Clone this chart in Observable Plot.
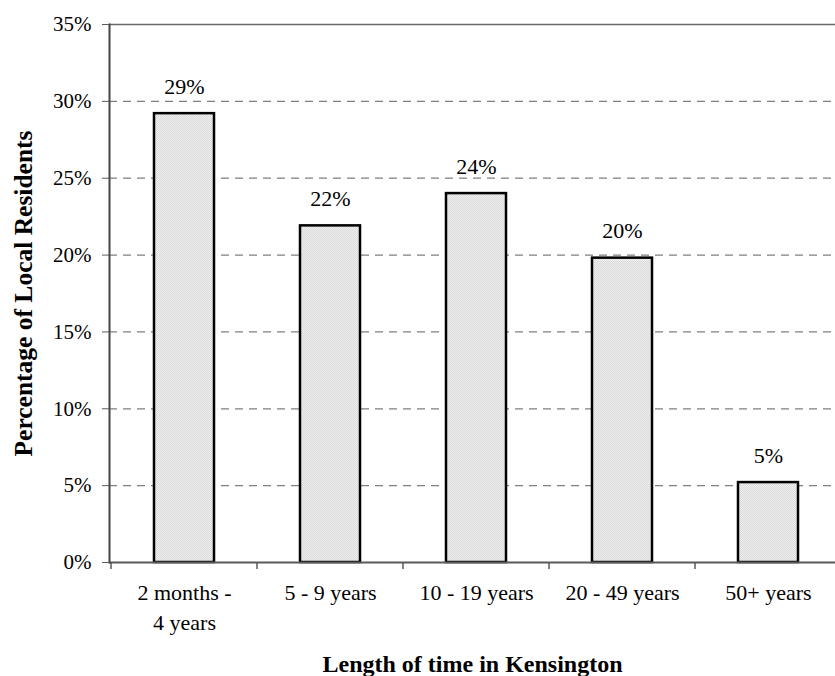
<!DOCTYPE html>
<html>
<head>
<meta charset="utf-8">
<script src="https://cdn.jsdelivr.net/npm/d3@7"></script>
<script src="https://cdn.jsdelivr.net/npm/@observablehq/plot@0.6"></script>
<style>
  html, body { margin: 0; padding: 0; background: #fff; }
  #chart svg { display: block; }
  #chart svg text { font-family: "Liberation Serif", "Times New Roman", serif; }
</style>
</head>
<body>
<div id="chart"></div>
<script>
// Length of residence in Kensington, share of local residents
const categories = ["2 months -\n4 years", "5 - 9 years", "10 - 19 years", "20 - 49 years", "50+ years"];
const shares = [0.292, 0.219, 0.240, 0.198, 0.052];
const yTicks = [0, 0.05, 0.10, 0.15, 0.20, 0.25, 0.30, 0.35];
const gridTicks = [0.05, 0.10, 0.15, 0.20, 0.25, 0.30];
const xTitle = "Length of time in Kensington";
const yTitle = "Percentage of Local Residents";

const data = categories.map((c, i) => ({category: c, share: shares[i]}));
const pct = d3.format(".0%");
const serif = "Liberation Serif, Times New Roman, serif";

// Stipple fill pattern for the bars, plus the tick marks on the band edges of the category axis
function decorations(index, scales, values, dimensions) {
  const ns = "http://www.w3.org/2000/svg";
  const g = document.createElementNS(ns, "g");
  const defs = document.createElementNS(ns, "defs");
  defs.innerHTML =
    '<pattern id="stipple" width="2" height="2" patternUnits="userSpaceOnUse">' +
    '<rect width="2" height="2" fill="#efefef"/>' +
    '<rect width="1" height="1" fill="#dadada"/>' +
    '<rect x="1" y="1" width="1" height="1" fill="#dadada"/>' +
    '</pattern>';
  g.appendChild(defs);
  const x = scales.x;
  const step = x.step();
  const pad = (step - x.bandwidth()) / 2;
  const y0 = scales.y(0);
  const edges = categories.map(c => x(c) - pad);
  edges.push(x(categories[categories.length - 1]) + x.bandwidth() + pad);
  for (const e of edges) {
    const l = document.createElementNS(ns, "line");
    l.setAttribute("x1", e); l.setAttribute("x2", e);
    l.setAttribute("y1", y0); l.setAttribute("y2", y0 + 7);
    l.setAttribute("stroke", "#5a5a5a");
    l.setAttribute("stroke-width", 1.5);
    g.appendChild(l);
  }
  return g;
}

const chart = Plot.plot({
  width: 835,
  height: 676,
  marginLeft: 109,
  marginRight: -8,
  marginTop: 24,
  marginBottom: 114,
  style: {fontFamily: serif, fontSize: "21px", color: "#000", background: "#fff", overflow: "visible"},
  x: {domain: categories, paddingInner: 0.59, paddingOuter: 0.295, label: null},
  y: {domain: [0, 0.35], label: null},
  marks: [
    decorations,
    Plot.ruleY(gridTicks, {stroke: "#808080", strokeWidth: 1.2, strokeDasharray: "8,6"}),
    Plot.ruleY([0.35], {stroke: "#6a6a6a", strokeWidth: 1.5}),
    Plot.barY(data, {x: "category", y: "share", fill: "url(#stipple)", stroke: "#000", strokeWidth: 2.5}),
    Plot.ruleY([0], {stroke: "#5a5a5a", strokeWidth: 2}),
    Plot.frame({anchor: "left", stroke: "#444", strokeWidth: 2}),
    Plot.text(data, {x: "category", y: "share", text: d => pct(d.share), dy: -27, fontSize: 22, fill: "#000"}),
    Plot.axisY({ticks: yTicks, tickFormat: pct, tickSize: 7, tickPadding: 11, stroke: "#5a5a5a", fill: "#000", fontSize: 21, label: null}),
    Plot.axisX({tickSize: 0, tickPadding: 16, fill: "#000", fontSize: 22, lineHeight: 1.38, label: null}),
    Plot.text([xTitle], {frameAnchor: "bottom", lineAnchor: "middle", textAnchor: "middle", dx: -4, dy: 102, fontSize: 24, fontWeight: "bold", fill: "#000"}),
    Plot.text([yTitle], {frameAnchor: "left", lineAnchor: "middle", textAnchor: "middle", rotate: -90, dx: -86, fontSize: 25.5, fontWeight: "bold", fill: "#000"})
  ]
});

document.getElementById("chart").appendChild(chart);
</script>
</body>
</html>
